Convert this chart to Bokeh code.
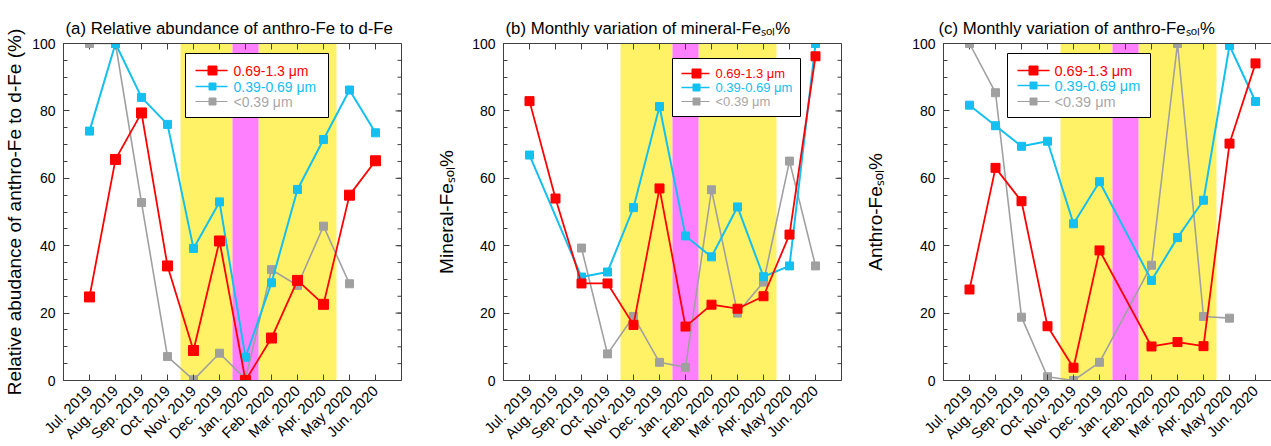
import math
from bokeh.plotting import figure
from bokeh.layouts import row
from bokeh.models import FixedTicker, LinearAxis, BoxAnnotation, Range1d, Title
from bokeh.core.properties import value
from bokeh.embed import file_html
from bokeh.resources import INLINE

nan = float("nan")

months = ["Jul. 2019", "Aug. 2019", "Sep. 2019", "Oct. 2019", "Nov. 2019", "Dec. 2019",
          "Jan. 2020", "Feb. 2020", "Mar. 2020", "Apr. 2020", "May 2020", "Jun. 2020"]
month_pos = list(range(1, 13))
y_major = [0, 20, 40, 60, 80, 100]
y_minor = list(range(0, 101, 5))

series_names = ["0.69-1.3 \u03bcm", "0.39-0.69 \u03bcm", "<0.39 \u03bcm"]

# (a) Relative abundance of anthro-Fe to d-Fe (%)
a_red = [24.8, 65.6, 79.4, 34.0, 8.9, 41.4, 0.0, 12.6, 29.7, 22.6, 55.0, 65.2]
a_blue = [74.0, 100.0, 84.0, 76.0, 39.2, 53.0, 6.9, 29.0, 56.7, 71.5, 86.2, 73.5]
a_gray = [100.0, 100.0, 52.8, 7.1, 0.2, 8.1, 0.5, 32.9, 28.2, 45.8, 28.7, nan]

# (b) Mineral-Fe_sol %
b_red = [82.9, 54.0, 28.8, 28.8, 16.5, 57.0, 16.0, 22.5, 21.3, 25.0, 43.3, 96.2]
b_blue = [66.9, nan, 30.7, 32.2, 51.3, 81.3, 42.9, 36.7, 51.5, 30.8, 34.0, 100.0]
b_gray = [nan, nan, 39.3, 7.9, 19.0, 5.4, 3.9, 56.6, 20.0, 29.2, 65.1, 34.0]

# (c) Anthro-Fe_sol %
c_red = [27.0, 63.1, 53.2, 16.1, 3.8, 38.6, nan, 10.1, 11.4, 10.2, 70.3, 94.1]
c_blue = [81.7, 75.6, 69.5, 71.0, 46.5, 59.0, nan, 29.7, 42.4, 53.5, 99.4, 82.8]
c_gray = [100.0, 85.4, 18.8, 1.1, 0.0, 5.4, nan, 34.2, 100.0, 19.0, 18.5, nan]

# shaded periods (month position units)
yellow_periods = [(4.5, 6.5), (7.5, 10.5)]
magenta_periods = [(6.5, 7.5)]

RED = "#FF0000"
BLUE = "#14C0F0"
GRAY = "#A0A0A0"
YELLOW = "#FFF266"
MAGENTA = "#FF80FF"
AXC = "#404040"
FONT = "Liberation Sans"

FRAME_TOP = 43
FRAME_H = 337
FRAME_BOTTOM = FRAME_TOP + FRAME_H
PXU = 26.0  # pixels per month
YPU = FRAME_H / 100.0  # pixels per y unit
LEFT_ABS = {}


def make_panel(left_abs, b_left, b_right, frame_w, x_end, ylabel, label_standoff,
               title, title_offset, right_axis=True):
    p = figure(frame_width=frame_w, frame_height=FRAME_H,
               min_border_left=b_left, min_border_right=b_right,
               min_border_top=FRAME_TOP, min_border_bottom=446 - FRAME_BOTTOM,
               x_range=Range1d(0, x_end), y_range=Range1d(0, 100),
               x_axis_location=None, y_axis_location=None,
               output_backend="svg", toolbar_location=None)
    p.outline_line_color = None
    p.background_fill_color = "white"
    p.border_fill_color = "white"
    p.xgrid.visible = False
    p.ygrid.visible = False
    p.grid.visible = False

    def style(ax):
        ax.axis_line_color = AXC
        ax.axis_line_width = 1
        ax.major_tick_line_color = AXC
        ax.minor_tick_line_color = AXC
        ax.major_tick_in = 6
        ax.major_tick_out = 0
        ax.minor_tick_in = 4
        ax.minor_tick_out = 0
        ax.major_label_text_font = FONT
        ax.major_label_text_font_size = "13.5px"
        ax.major_label_text_color = "black"

    xt = FixedTicker(ticks=month_pos, minor_ticks=[])
    yt = FixedTicker(ticks=y_major, minor_ticks=y_minor)
    empty = FixedTicker(ticks=[], minor_ticks=[])

    bx = LinearAxis(ticker=xt, major_label_overrides={m: lab for m, lab in zip(month_pos, months)},
                    major_label_orientation=math.pi / 4)
    style(bx)
    bx.major_label_text_font_size = "14.8px"
    bx.major_label_standoff = 8
    p.add_layout(bx, "below")

    ly = LinearAxis(ticker=yt, axis_label=ylabel)
    style(ly)
    ly.major_label_text_font_size = "14px"
    ly.major_label_standoff = 8
    ly.axis_label_text_font = FONT
    ly.axis_label_text_font_size = "19px"
    ly.axis_label_text_font_style = "normal"
    ly.axis_label_text_color = "black"
    ly.axis_label_standoff = label_standoff
    p.add_layout(ly, "left")

    tx = LinearAxis(ticker=empty)
    style(tx)
    p.add_layout(tx, "above")
    if right_axis:
        ry = LinearAxis(ticker=empty)
        style(ry)
        p.add_layout(ry, "right")

    p.add_layout(Title(text=title, align="left", offset=title_offset, text_font=FONT,
                       text_font_size="16.8px", text_font_style="normal", text_color="black",
                       standoff=12), "above")

    for l, r in yellow_periods:
        p.add_layout(BoxAnnotation(left=l, right=r, fill_color=YELLOW, fill_alpha=1.0,
                                   line_color=None, level="underlay"))
    for l, r in magenta_periods:
        p.add_layout(BoxAnnotation(left=l, right=r, fill_color=MAGENTA, fill_alpha=1.0,
                                   line_color=None, level="underlay"))

    # inward ticks on the top edge (months) and right edge (y)
    p.segment(x0=month_pos, y0=[100] * 12, x1=month_pos, y1=[100 - 6 / YPU] * 12,
              line_color=AXC, line_width=1)
    if right_axis:
        p.segment(x0=[x_end] * len(y_major), y0=y_major, x1=[x_end - 6 / PXU] * len(y_major),
                  y1=y_major, line_color=AXC, line_width=1)
        p.segment(x0=[x_end] * len(y_minor), y0=y_minor, x1=[x_end - 4 / PXU] * len(y_minor),
                  y1=y_minor, line_color=AXC, line_width=1)
    LEFT_ABS[id(p)] = left_abs
    return p


def px2d(p, px, py):
    return (px - LEFT_ABS[id(p)]) / PXU, (FRAME_BOTTOM - py) / YPU


def draw_series(p, vals, color, size, lw):
    xs = [m for m, v in zip(month_pos, vals) if not math.isnan(v)]
    ys = [v for v in vals if not math.isnan(v)]
    p.line(xs, ys, line_color=color, line_width=lw)
    p.scatter(xs, ys, marker="square", size=size, fill_color=color, line_color=color)


def legend(p, box, rows, line_x, mark_x, text_x, fsize, sizes, lws):
    l, t = px2d(p, box[0], box[1])
    r, b = px2d(p, box[2], box[3])
    p.quad(left=[l], right=[r], top=[t], bottom=[b], fill_color="white",
           line_color="black", line_width=1)
    colors = [RED, BLUE, GRAY]
    tcolors = [RED, BLUE, "#A8A8A8"]
    for i in range(3):
        x0, y0 = px2d(p, line_x[0], rows[i])
        x1, _ = px2d(p, line_x[1], rows[i])
        xm, _ = px2d(p, mark_x, rows[i])
        xt_, _ = px2d(p, text_x, rows[i])
        p.segment(x0=[x0], y0=[y0], x1=[x1], y1=[y0], line_color=colors[i], line_width=lws[i] * 0.7)
        p.scatter([xm], [y0], marker="square", size=sizes[i] - 1, fill_color=colors[i],
                  line_color=colors[i])
        p.text([xt_], [y0], text=[series_names[i]], text_font=value(FONT),
               text_font_size=value(f"{fsize}px"), text_baseline="middle", text_align="left",
               text_color=tcolors[i])


SIZES = [10, 8, 8]
LWS = [1.8, 2.0, 1.6]
SUB = "\u209b\u2092\u2097"  # subscript "sol"

# ---- panel (a)
pa = make_panel(63, 63, 29, 338, 13, "Relative abudance of anthro-Fe to d-Fe (%)", 4,
                "(a) Relative abundance of anthro-Fe to d-Fe", 2)
for vals, col, sz, lw in [(a_gray, GRAY, SIZES[2], LWS[2]), (a_blue, BLUE, SIZES[1], LWS[1]),
                          (a_red, RED, SIZES[0], LWS[0])]:
    draw_series(pa, vals, col, sz, lw)
legend(pa, (185, 53, 328, 117), [70, 86, 101], (195, 227), 212, 233, 14, SIZES, LWS)

# ---- panel (b)
pb = make_panel(503, 73, 9, 338, 13, "Mineral-Fe" + SUB + "%", 12,
                "(b) Monthly variation of mineral-Fe" + SUB + "%", 2)
for vals, col, sz, lw in [(b_gray, GRAY, SIZES[2], LWS[2]), (b_blue, BLUE, SIZES[1], LWS[1]),
                          (b_red, RED, 9, LWS[0])]:
    draw_series(pb, vals, col, sz, lw)
legend(pb, (672, 58, 800, 116), [73, 87, 101], (681, 709), 696, 715, 13, SIZES, LWS)

# ---- panel (c)
pc = make_panel(943, 93, 0, 328, 328 / PXU, "Anthro-Fe" + SUB + "%", 23,
                "(c) Monthly variation of anthro-Fe" + SUB + "%", -5, right_axis=False)
for vals, col, sz, lw in [(c_gray, GRAY, SIZES[2], LWS[2]), (c_blue, BLUE, SIZES[1], LWS[1]),
                          (c_red, RED, 9, LWS[0])]:
    draw_series(pc, vals, col, sz, lw)
legend(pc, (1007, 53, 1150, 117), [70, 85, 101], (1017, 1049), 1033, 1054, 14.5, SIZES, LWS)

layout = row(pa, pb, pc)
open("out.html", "w").write(file_html(layout, INLINE))
